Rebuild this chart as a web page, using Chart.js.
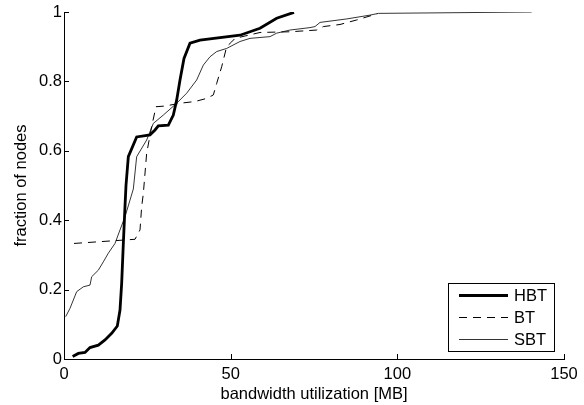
<!DOCTYPE html>
<html>
<head>
<meta charset="utf-8">
<script src="https://cdn.jsdelivr.net/npm/chart.js@4/dist/chart.umd.min.js"></script>
<style>
  html, body { margin: 0; padding: 0; background: #fff; }
  #wrap { width: 584px; height: 405px; }
</style>
</head>
<body>
<div id="wrap"><canvas id="cdf"></canvas></div>
<script>
    // bandwidth (MB) vs cumulative fraction of nodes
    const hbtMB = [2.6, 4.3, 6.3, 7.8, 10.3, 12.3, 14.3, 16, 16.8, 17.3, 17.8, 18.3, 18.6, 19.3, 21.8, 25.8, 27.3, 28.3, 31.3, 32.8, 33.8, 34.8, 36, 37.8, 40.8, 52.8, 58.8, 63.8, 69];
    const hbtFrac = [0.007, 0.016, 0.019, 0.033, 0.04, 0.055, 0.074, 0.095, 0.141, 0.218, 0.333, 0.44, 0.5, 0.583, 0.64, 0.646, 0.66, 0.672, 0.674, 0.703, 0.746, 0.804, 0.866, 0.91, 0.919, 0.933, 0.953, 0.982, 0.999];

    const btMB = [3, 21.3, 22.8, 23.3, 23.8, 24.8, 26.3, 27.6, 30.3, 34.8, 39.3, 42.8, 44.8, 45.8, 47.3, 48.8, 50.3, 51.3, 58.8, 67.8, 75.8, 77.8, 82.8, 87.8, 93.3, 94];
    const btFrac = [0.333, 0.345, 0.372, 0.439, 0.477, 0.593, 0.67, 0.727, 0.729, 0.737, 0.742, 0.751, 0.761, 0.794, 0.842, 0.9, 0.914, 0.924, 0.941, 0.943, 0.948, 0.958, 0.964, 0.977, 0.993, 0.995];

    const sbtMB = [0.5, 1.8, 2.8, 3.8, 5.8, 7.8, 8.3, 10.3, 11.8, 13.3, 15.3, 16.8, 18.3, 19.8, 20.8, 21.8, 24.8, 26.8, 29.8, 33.8, 36.8, 39.8, 41.8, 43.8, 45.8, 48.8, 52.8, 55.8, 61.8, 63.8, 67.8, 73.8, 75.3, 76.8, 84.8, 91.8, 94.3, 140.3];
    const sbtFrac = [0.122, 0.146, 0.17, 0.194, 0.208, 0.213, 0.237, 0.256, 0.28, 0.305, 0.333, 0.372, 0.41, 0.458, 0.49, 0.583, 0.631, 0.679, 0.703, 0.737, 0.766, 0.804, 0.847, 0.871, 0.886, 0.895, 0.915, 0.924, 0.929, 0.939, 0.948, 0.955, 0.958, 0.97, 0.98, 0.991, 0.996, 1.0];

    const xTicks = [0, 50, 100, 150];
    const yTicks = [0, 0.2, 0.4, 0.6, 0.8, 1];

    const toPoints = (xs, ys) => xs.map((x, i) => ({ x: x, y: ys[i] }));

    const FONT = "Arial, 'Liberation Sans', sans-serif";
    const FSIZE = 16.5;

    // inward tick marks (matlab style)
    const innerTicks = {
        id: "innerTicks",
        afterDraw(chart) {
            const ctx = chart.ctx;
            const a = chart.chartArea;
            const xs = chart.scales.x;
            const ys = chart.scales.y;
            ctx.save();
            ctx.strokeStyle = "#000";
            ctx.lineWidth = 1;
            ctx.beginPath();
            xTicks.forEach((t) => {
                const px = Math.round(xs.getPixelForValue(t)) + 0.5;
                ctx.moveTo(px, a.bottom);
                ctx.lineTo(px, a.bottom - 5);
            });
            yTicks.forEach((t) => {
                const py = Math.round(ys.getPixelForValue(t)) + 0.5;
                ctx.moveTo(a.left, py);
                ctx.lineTo(a.left + 5, py);
            });
            ctx.stroke();
            ctx.restore();
        },
    };

    // boxed legend in the lower right corner
    const boxLegend = {
        id: "boxLegend",
        afterDraw(chart) {
            const ctx = chart.ctx;
            const a = chart.chartArea;
            const x0 = a.right - 116, y0 = a.bottom - 76;
            const w = 106, h = 68;
            ctx.save();
            ctx.fillStyle = "#fff";
            ctx.fillRect(x0, y0, w, h);
            ctx.strokeStyle = "#000";
            ctx.lineWidth = 1;
            ctx.strokeRect(x0 + 0.5, y0 + 0.5, w, h);
            ctx.font = FSIZE + "px " + FONT;
            ctx.textBaseline = "middle";
            chart.data.datasets.forEach((ds, i) => {
                const cy = y0 + 12.5 + i * 22;
                ctx.beginPath();
                ctx.lineWidth = ds.borderWidth;
                ctx.setLineDash(ds.borderDash || []);
                ctx.moveTo(x0 + 11, cy);
                ctx.lineTo(x0 + 60, cy);
                ctx.stroke();
                ctx.setLineDash([]);
                ctx.fillStyle = "#000";
                ctx.fillText(ds.label, x0 + 66, cy + 1);
            });
            ctx.restore();
        },
    };

    new Chart(document.getElementById("cdf"), {
        type: "line",
        data: {
            datasets: [
                {
                    label: "HBT",
                    data: toPoints(hbtMB, hbtFrac),
                    borderColor: "#000",
                    borderWidth: 2.8,
                    pointRadius: 0,
                    tension: 0,
                },
                {
                    label: "BT",
                    data: toPoints(btMB, btFrac),
                    borderColor: "#000",
                    borderWidth: 1,
                    borderDash: [8, 6],
                    pointRadius: 0,
                    tension: 0,
                },
                {
                    label: "SBT",
                    data: toPoints(sbtMB, sbtFrac),
                    borderColor: "#000",
                    borderWidth: 0.8,
                    pointRadius: 0,
                    tension: 0,
                },
            ],
        },
        options: {
            responsive: true,
            maintainAspectRatio: false,
            animation: false,
            layout: {
                padding: { top: 12, right: 20, left: 0, bottom: 0 },
            },
            plugins: {
                legend: { display: false },
                tooltip: { enabled: false },
            },
            scales: {
                x: {
                    type: "linear",
                    min: 0,
                    max: 150,
                    afterBuildTicks: (s) => {
                        s.ticks = xTicks.map((v) => ({ value: v }));
                    },
                    ticks: {
                        color: "#000",
                        font: { family: FONT, size: FSIZE },
                        padding: 6,
                        maxRotation: 0,
                    },
                    grid: { display: false, drawTicks: false },
                    border: { display: true, color: "#000", width: 1 },
                    title: {
                        display: true,
                        text: "bandwidth utilization [MB]",
                        color: "#000",
                        font: { family: FONT, size: FSIZE },
                        padding: { top: 0, bottom: 1 },
                    },
                    afterFit: (s) => {
                        s.height = 46;
                    },
                },
                y: {
                    type: "linear",
                    min: 0,
                    max: 1,
                    afterBuildTicks: (s) => {
                        s.ticks = yTicks.map((v) => ({ value: v }));
                    },
                    ticks: {
                        color: "#000",
                        font: { family: FONT, size: FSIZE },
                        padding: 2,
                        callback: (v) => String(v),
                    },
                    grid: { display: false, drawTicks: false },
                    border: { display: true, color: "#000", width: 1 },
                    title: {
                        display: true,
                        text: "fraction of nodes",
                        color: "#000",
                        font: { family: FONT, size: FSIZE },
                        padding: { top: 12, bottom: 0 },
                    },
                    afterFit: (s) => {
                        s.width = 64;
                    },
                },
            },
        },
        plugins: [innerTicks, boxLegend],
    });
</script>
</body>
</html>
